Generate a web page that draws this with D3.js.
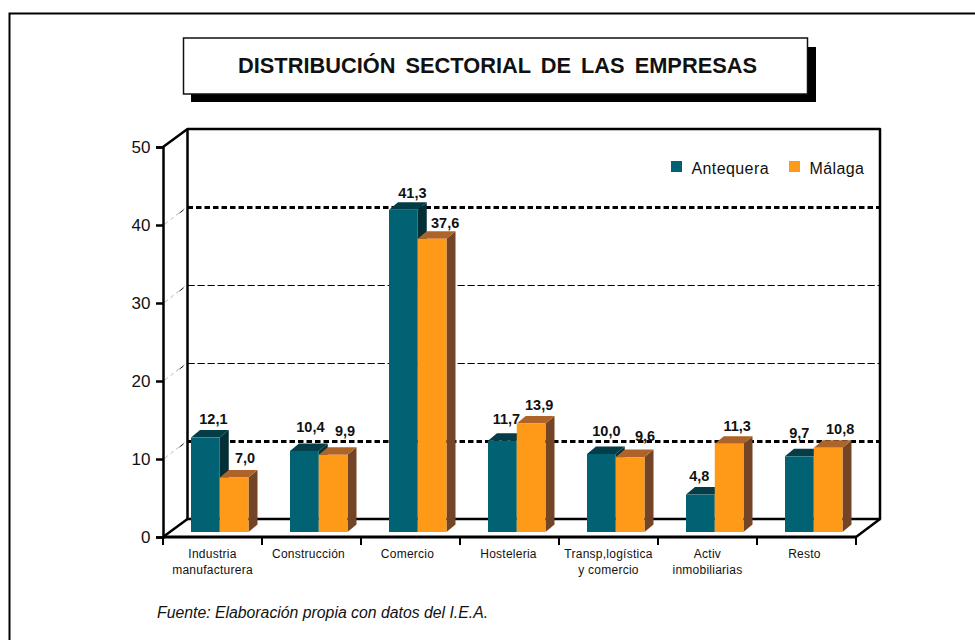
<!DOCTYPE html>
<html><head><meta charset="utf-8">
<script src="https://cdn.jsdelivr.net/npm/d3@7/dist/d3.min.js"></script>
<style>
html,body{margin:0;padding:0;background:#fff}
svg{display:block}
text{font-family:"Liberation Sans",Arial,sans-serif;fill:#111}
</style></head><body>
<svg id="c" width="975" height="640"></svg>
<script>
const categories = ["Industria|manufacturera","Construcción","Comercio","Hosteleria","Transp,logística|y comercio","Activ|inmobiliarias","Resto"];
const seriesNames = ["Antequera","Málaga"];
const antequera = [12.1,10.4,41.3,11.7,10.0,4.8,9.7];
const malaga = [7.0,9.9,37.6,13.9,9.6,11.3,10.8];
const yTicks = [0,10,20,30,40,50];
const titleText = "DISTRIBUCIÓN SECTORIAL DE LAS EMPRESAS";
const sourceText = "Fuente: Elaboración propia con datos del I.E.A.";
const palette = {
  Antequera:{front:"#006272",side:"#042f36",top:"#043d47"},
  "Málaga":{front:"#ff9a18",side:"#734526",top:"#ae6428"}
};

const svg = d3.select("#c");
const ink = "#000";
// outer frame, open to the right and bottom of the page
svg.append("path").attr("d","M9.5,645V13.5H980").attr("fill","none").attr("stroke",ink).attr("stroke-width",2);
// title box
svg.append("rect").attr("x",191).attr("y",47).attr("width",625).attr("height",55).attr("fill",ink);
svg.append("rect").attr("x",183.5).attr("y",38).attr("width",624).attr("height",56).attr("fill","#fff").attr("stroke","#111").attr("stroke-width",1.5);
svg.append("text").attr("x",497.5).attr("y",72.5).attr("text-anchor","middle")
  .attr("font-size",21.8).attr("font-weight","bold").attr("word-spacing",4).text(titleText);

// geometry
const left=163,right=856,base=537,topY=147,dx=24.5,dy=-18;
const y = d3.scaleLinear().domain([0,50]).range([base,topY]);
const x0 = d3.scaleBand().domain(categories).range([left,right]);
const x1 = d3.scaleBand().domain(seriesNames).range([28,85.5]);
const barLift = 5, depthX=9, depthY=7.5;

// back wall, side wall, floor
const wall = svg.append("g").attr("fill","none").attr("stroke",ink).attr("stroke-width",2.5);
wall.append("path").attr("d",`M${left},${topY}L${left+dx},${topY+dy}H${right+dx-.5}V${base+dy}L${right},${base}`).attr("stroke-linejoin","round");
wall.append("path").attr("d",`M${left+dx},${topY+dy}V${base+dy}H${right+dx}`);
wall.append("path").attr("d",`M${left},${base}L${left+dx},${base+dy}`);

// gridlines on the back wall and dashes on the side wall
yTicks.filter(v=>v>0&&v<50).forEach(v=>{
  const heavy = v===10||v===40;
  svg.append("line").attr("x1",left+dx).attr("x2",right+dx-1).attr("y1",y(v)+dy+.5).attr("y2",y(v)+dy+.5)
    .attr("stroke",ink).attr("stroke-width",heavy?3:1).attr("stroke-dasharray",heavy?"5.5 3":"7.3 2.7");
  svg.append("line").attr("x1",left+2).attr("x2",left+dx-1).attr("y1",y(v)-1).attr("y2",y(v)+dy)
    .attr("stroke","#aaa").attr("stroke-width",.8).attr("stroke-dasharray","4 3");
  svg.append("line").attr("x1",left+dx-8).attr("x2",left+dx-4).attr("y1",y(v)+dy+6).attr("y2",y(v)+dy+3)
    .attr("stroke","#222").attr("stroke-width",1);
});

// y axis
const yAxis = svg.append("g").attr("transform",`translate(${left},0)`)
  .call(d3.axisLeft(y).tickValues(yTicks).tickSize(7).tickPadding(5.5));
yAxis.selectAll("path").attr("stroke",ink).attr("stroke-width",2.5);
yAxis.selectAll("line").attr("stroke",ink).attr("stroke-width",2.5);
yAxis.selectAll("text").attr("font-size",17).attr("font-family",'"Liberation Sans",Arial,sans-serif').attr("fill","#111");

// x axis: ticks at band edges, labels at band centres
const xAxis = svg.append("g").attr("transform",`translate(0,${base})`);
xAxis.append("line").attr("x1",left).attr("x2",right).attr("stroke",ink).attr("stroke-width",3);
[...categories.map(c=>x0(c)),right].forEach(px=>{
  xAxis.append("line").attr("x1",px).attr("x2",px).attr("y1",0).attr("y2",8).attr("stroke",ink).attr("stroke-width",2);
});
categories.forEach(c=>{
  const t = xAxis.append("text").attr("text-anchor","middle").attr("font-size",12).attr("letter-spacing",.25);
  c.split("|").forEach((line,i)=>{
    t.append("tspan").attr("x",x0(c)+x0.bandwidth()/2-(line==="Construcción"?3:0)-(c==="Resto"?2:0)-(c==="Comercio"?3:0)-(c==="Hosteleria"?1:0)).attr("y",21+i*16).text(line);
  });
});

// bars
const valueScale = v => y(0)-y(v);
const barData = seriesNames.map((s,si)=>categories.map((c,i)=>({s,c,i,v:(si?malaga:antequera)[i]})));
barData.forEach(rows=>{
  const g = svg.append("g");
  rows.forEach(d=>{
    const col = palette[d.s];
    const bx = x0(d.c)+x1(d.s), w = x1.bandwidth();
    const by = base-barLift, h = valueScale(d.v), ty = by-h;
    g.append("path").attr("fill",col.side)
      .attr("d",`M${bx+w},${by}V${ty}l${depthX},${-depthY}V${by-depthY}Z`);
    g.append("path").attr("fill",col.top)
      .attr("d",`M${bx},${ty}l${depthX},${-depthY}H${bx+w+depthX}l${-depthX},${depthY}Z`);
    g.append("rect").attr("x",bx).attr("y",ty).attr("width",w).attr("height",h).attr("fill",col.front);
  });
});

// value labels, placed around the bar tops
const nudge = {Antequera:[[0,0],[-2,-5],[1,2],[-4,-3],[-3,-4],[-9,0],[-8,-4]],
               "Málaga":[[0,0],[1,-5],[2,3],[-3,0],[4,-2],[-3,1],[1,0]]};
barData.forEach(rows=>rows.forEach(d=>{
  const bx = x0(d.c)+x1(d.s)+x1.bandwidth()/2;
  const ty = base-barLift-valueScale(d.v);
  const n = nudge[d.s][d.i];
  svg.append("text").attr("x",bx+(d.s==="Antequera"?8:11)+n[0]).attr("y",ty-14+n[1])
    .attr("text-anchor","middle").attr("font-size",14.5).attr("font-weight","bold")
    .text(d3.format(".1f")(d.v).replace(".",","));
}));

// legend
seriesNames.forEach((s,i)=>{
  const lx = i?789:671;
  svg.append("rect").attr("x",lx).attr("y",161).attr("width",11).attr("height",11).attr("fill",palette[s].front);
  svg.append("text").attr("x",lx+20.5).attr("y",174).attr("font-size",16).attr("letter-spacing",.4).text(s);
});

// source
svg.append("text").attr("x",157).attr("y",618).attr("font-size",15.8).attr("font-style","italic").text(sourceText);
</script>
</body></html>
